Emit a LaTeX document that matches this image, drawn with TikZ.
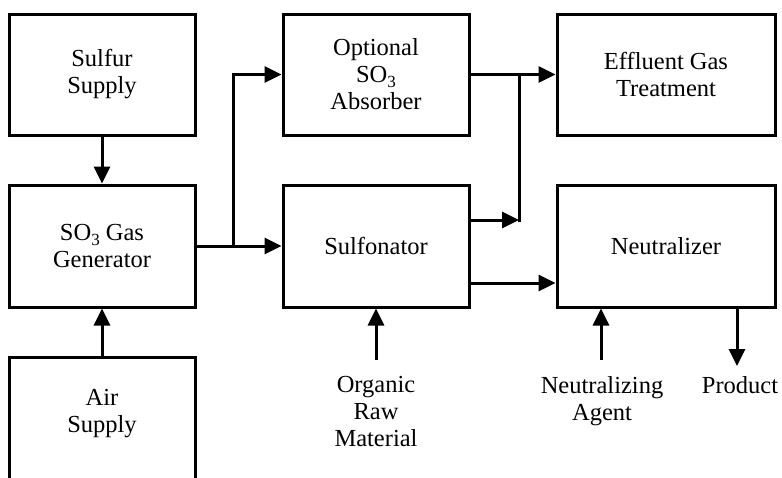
\documentclass[tikz,border=0pt]{standalone}
\usepackage{fontspec}
\setmainfont{Liberation Serif}
\usetikzlibrary{arrows.meta}
\newcommand{\subthree}{\raisebox{-5pt}{\fontsize{17}{17}\selectfont 3}}
\begin{document}
\begin{tikzpicture}[x=1pt,y=-1pt,
  box/.style={draw,line width=3pt,minimum width=186pt,minimum height=121pt,inner sep=0pt,align=center,font=\fontsize{24.5}{27}\selectfont},
  widebox/.style={box,minimum width=218pt},
  lbl/.style={inner sep=0pt,align=center,font=\fontsize{24.5}{27}\selectfont},
  arr/.style={line width=3pt,-{Triangle[length=17pt,width=16pt]}},
  ln/.style={line width=3pt}]
\useasboundingbox (0,0) rectangle (782,477);
\clip (0,0) rectangle (782,477);
% boxes
\node[box] (sulfur) at (102,74.5) {Sulfur\\Supply};
\node[box,minimum height=122pt] (gen) at (102,246) {SO\subthree{} Gas\\Generator};
\node[box,minimum height=150pt] (air) at (102,432) {};
\node[lbl] (airtxt) at (102,413.5) {Air\\Supply};
\node[box] (absorber) at (376,74.5) {Optional\\SO\subthree\\Absorber};
\node[box,minimum height=122pt] (sulfonator) at (376,246) {Sulfonator};
\node[widebox] (effluent) at (666,74.5) {Effluent Gas\\Treatment};
\node[widebox,minimum height=122pt] (neutralizer) at (666,246) {Neutralizer};
% coordinates
\coordinate (j1) at (233,246);
\coordinate (j2) at (519,74.5);
\coordinate (j3) at (519,220);
\coordinate (org) at (376,360);
\coordinate (na) at (601,360);
\coordinate (pr) at (737,366);
% connectors
\draw[arr] (sulfur.south) -- (gen.north);
\draw[arr] (air.north) -- (gen.south);
\draw[arr] (gen.east) -- (sulfonator.west);
\draw[arr] (j1) |- (absorber.west);
\draw[arr] (absorber.east) -- (effluent.west);
\draw[arr] (sulfonator.east |- j3) -- (j3);
\draw[ln] ([yshift=-1.5pt]j3) -- ([yshift=1.5pt]j2);
\draw[arr] (sulfonator.east |- 0,283) -- (neutralizer.west |- 0,283);
\draw[arr] (org) -- (sulfonator.south -| org);
\draw[arr] (na) -- (neutralizer.south -| na);
\draw[arr] (neutralizer.south -| pr) -- (pr);
% labels
\node[lbl,anchor=north] (orgtxt) at (376,376) {Organic\\Raw\\Material};
\node[lbl,anchor=north] (natxt) at (602,376) {Neutralizing\\Agent};
\node[lbl,anchor=north] (prtxt) at (740,376) {Product};
\end{tikzpicture}
\end{document}
